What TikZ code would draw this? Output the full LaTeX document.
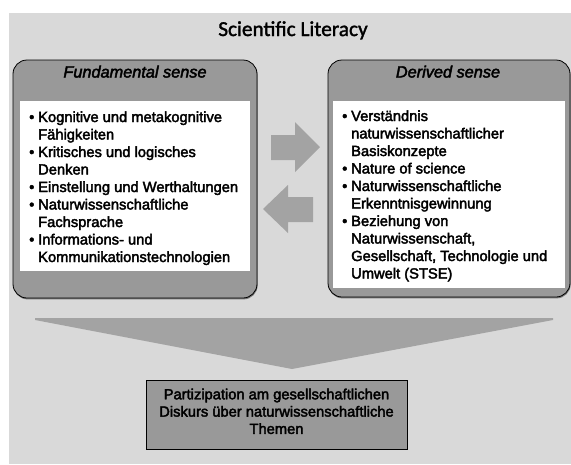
\documentclass[tikz,border=0pt]{standalone}
\usepackage{fontspec}
\setmainfont{Liberation Sans}
\newfontfamily\heavyfont{Liberation Sans}[FakeBold=2.6]
\newfontfamily\titlefont{Carlito}[FakeBold=1.6]
\usetikzlibrary{shadows}
\definecolor{bgc}{HTML}{D9D9D9}
\definecolor{boxc}{HTML}{999999}
\definecolor{arrc}{HTML}{A3A3A3}
\newcommand\mybul{\makebox[9pt][l]{\textbullet}}
\newcommand\myind{\hspace*{9pt}}
\begin{document}
\begin{tikzpicture}[x=1pt,y=-1pt,
  rbox/.style={fill=boxc, draw=black, line width=0.8pt, rounded corners=14pt,
    drop shadow={shadow xshift=0.6pt, shadow yshift=-1.4pt, opacity=0.45, fill=black}},
  sbox/.style={fill=boxc, draw=black, line width=0.7pt,
    drop shadow={shadow xshift=1pt, shadow yshift=-1.4pt, opacity=0.45, fill=black}},
  inner/.style={fill=white, draw=none},
  blockarrow/.style={fill=arrc, draw=none},
  listtext/.style={inner sep=0pt, anchor=base west, font=\heavyfont\fontsize{14.7}{17.5}\selectfont},
  headtext/.style={inner sep=0pt, anchor=base, font=\heavyfont\fontsize{16.3}{18}\selectfont\itshape},
]
\useasboundingbox (0,0) rectangle (571,464);
\fill[bgc] (9,13) rectangle (571,464);

% title
\node[inner sep=0pt, anchor=base, font=\titlefont\fontsize{21.3}{24}\selectfont] (title) at (293,36) {Scientific Literacy};

% left box
\path[rbox] (13,60) rectangle (257,298);
\path[inner] (20,101) rectangle (250,271);
\node[headtext] (fundhead) at (135,77.5) {Fundamental sense};
\node[listtext] (fundlist) at (29,122) {\begin{tabular}[t]{@{}l@{}}
\mybul Kognitive und metakognitive\\
\myind Fähigkeiten\\
\mybul Kritisches und logisches\\
\myind Denken\\
\mybul Einstellung und Werthaltungen\\
\mybul Naturwissenschaftliche\\
\myind Fachsprache\\
\mybul Informations- und\\
\myind Kommunikationstechnologien
\end{tabular}};

% right box
\path[rbox] (328,60) rectangle (570,297);
\path[inner] (333,101) rectangle (565,288);
\node[headtext] (derhead) at (448,77.5) {Derived sense};
\node[listtext] (derlist) at (342,121) {\begin{tabular}[t]{@{}l@{}}
\mybul Verständnis\\
\myind naturwissenschaftlicher\\
\myind Basiskonzepte\\
\mybul Nature of science\\
\mybul Naturwissenschaftliche\\
\myind Erkenntnisgewinnung\\
\mybul Beziehung von\\
\myind Naturwissenschaft,\\
\myind Gesellschaft, Technologie und\\
\myind Umwelt (STSE)
\end{tabular}};

% block arrows
\path[blockarrow] (271,135) -- (295,135) -- (295,122) -- (320,147) -- (295,172) -- (295,160) -- (271,160) -- cycle;
\path[blockarrow] (313,197) -- (288,197) -- (288,185) -- (263,209) -- (288,233) -- (288,222) -- (313,222) -- cycle;

% big down triangle
\path[blockarrow] (35,318) -- (553,318) -- (553,320) -- (292,369) -- (35,320) -- cycle;

% bottom box
\path[sbox] (146,380) rectangle (407,449);
\node[inner sep=0pt, anchor=base, font=\heavyfont\fontsize{14.7}{17.3}\selectfont] (part) at (276.5,399.3) {\begin{tabular}[t]{@{}c@{}}
Partizipation am gesellschaftlichen\\
Diskurs über naturwissenschaftliche\\
Themen
\end{tabular}};
\end{tikzpicture}
\end{document}
